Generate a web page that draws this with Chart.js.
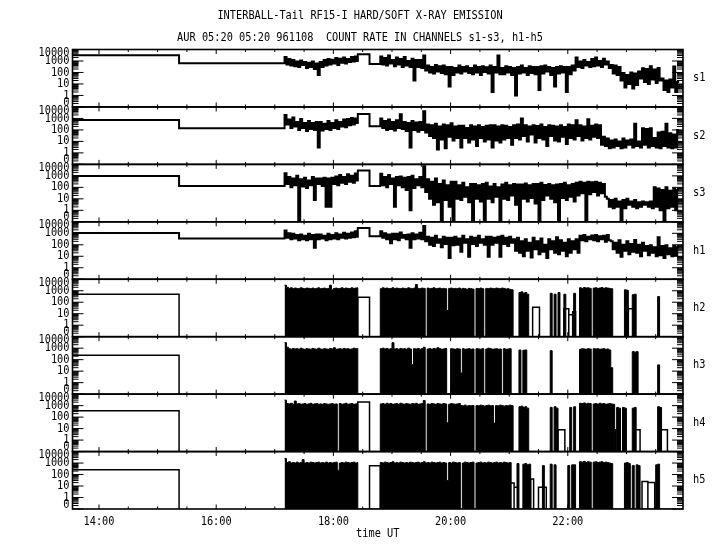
<!DOCTYPE html>
<html><head><meta charset="utf-8">
<script src="https://cdn.jsdelivr.net/npm/chart.js@4.4.1/dist/chart.umd.min.js"></script>
<style>html,body{margin:0;padding:0;background:#fff;}canvas{display:block;}</style>
</head><body>
<canvas id="c" width="720" height="550"></canvas>
<script>
// ---------- texts / ticks ----------
const titleLines = ['INTERBALL-Tail RF15-I HARD/SOFT X-RAY EMISSION',
                    'AUR 05:20 05:20 961108  COUNT RATE IN CHANNELS s1-s3, h1-h5'];
const channels = ['s1','s2','s3','h1','h2','h3','h4','h5'];
const yTickVals = [0.1, 1, 10, 100, 1000, 10000];
const yTickLabels = ['0', '1', '10', '100', '1000', '10000'];
const xTickHours = [14, 16, 18, 20, 22];
const xTickLabels = ['14:00', '16:00', '18:00', '20:00', '22:00'];
const xAxisTitle = 'time UT';
const xMin = 13.548, xMax = 23.966;

// ---------- times of regime changes ----------
const tStep = '15:22', tBurstA = '17:10', tGap1 = '18:25', tGap2 = '18:37', tBurstB = '18:48';
const stepMin = 2; // sampling of the A/B arrays (minutes)

// ---------- soft channels + h1 (line panels) ----------
const s1Pre = [3100, 630], s1Gap = [3800, 550];
const s2Pre = [740, 140],  s2Gap = [2450, 210];
const s3Pre = [950, 130],  s3Gap = [3000, 130];
const h1Pre = [1070, 360], h1Gap = [2900, 550];

const s1A = [2200,500,1500,400,1200,350,900,300,1100,450, 800,250,700,300,900,200,600,60,800,300,
  1200,400,1500,500,1300,600,1800,450,1600,700, 2000,600,1500,800,2200,900,2500,1000];
const s1B = [2500,500,1800,400,3000,600,1200,350,2000,500, 1500,300,2200,400,1000,300,1600,20,1200,300,
  1200,250,3000,150,400,100,300,80,450,120, 350,90,400,70,300,6,300,60,250,100,
  400,80,300,120,350,90,250,70,400,100, 300,60,350,110,280,80,400,2,300,100,
  3000,70,250,70,350,100,300,60,250,1, 300,80,400,100,250,60,350,90,300,70,
  300,3,350,80,400,120,300,60,250,6, 300,80,350,100,300,2,300,70,400,150,
  2000,300,900,250,1200,400,800,300,1500,350, 2000,400,1000,300,1600,500,900,250,450,80,
  400,60,300,20,90,5,60,10,100,4, 80,8,120,30,230,15,200,10,350,25,
  180,12,250,20,30,3,20,2,25,5, 330,2,15];

const s2A = [2000,300,800,150,1200,200,500,100,900,150, 400,80,600,120,400,100,500,3,500,90,
  350,120,600,100,400,150,700,120,500,200, 800,170,900,250,1100,300,1000,400];
const s2B = [1000,150,600,100,800,120,500,90,700,150, 2300,120,500,80,400,3,600,100,450,70,
  500,100,4200,60,300,30,250,20,350,2, 200,15,300,2.5,250,25,380,12,200,20,
  230,3,230,20,150,8,260,15,200,4, 250,20,180,10,230,15,250,3,250,12,
  200,8,260,15,230,20,180,5,250,20, 300,15,1000,30,250,10,200,40,260,8,
  220,20,300,15,180,4,250,30,230,12, 200,10,260,25,180,6,300,20,250,15,
  700,30,260,12,200,20,850,15,230,25, 300,20,250,5,25,4,18,2.5,12,3,
  15,4,10,2.5,18,3,12,5,15,3, 350,4,10,3,140,5,120,3,140,4,
  20,3,60,2.5,70,4,350,3,50,2.5, 40,3,100];

const s3A = [1650,200,800,100,600,150,1000,0,500,120, 700,90,400,150,800,8,600,200,600,130,
  700,2,600,2,700,200,900,150,1200,250, 800,200,1400,300,1000,250,1600,400];
const s3B = [1500,150,800,100,1200,200,600,2,800,150, 900,100,700,60,800,1,1000,90,500,150,
  800,100,7000,40,500,10,300,3,600,5, 200,0,400,8,150,2,300,0,300,10,
  150,8,250,15,100,5,200,0,200,10, 150,6,200,0,250,10,120,5,200,15,
  100,0,180,10,250,8,150,20,200,3, 180,0,180,10,220,6,150,12,200,4,
  200,0,250,8,160,20,200,10,150,5, 180,0,200,12,250,8,150,15,200,6,
  250,20,300,30,250,0,300,25,280,40, 300,20,250,30,200,15,10,2,8,1.5,
  10,2,6,0,8,1.5,10,3,6,2, 8,1.5,5,2,6,3,5,2,6,1.5,
  100,2,80,1,60,0,100,1.5,50,2, 80,1,60];

const h1A = [1750,400,1000,300,900,350,700,250,800,300, 600,250,900,300,700,55,800,300,800,350,
  600,250,900,300,700,350,1000,300,800,400, 1100,350,900,400,1200,450,1500,500];
const h1B = [1500,400,1000,300,800,135,900,300,900,250, 1200,400,700,300,800,55,1000,300,800,350,
  1100,300,4300,200,500,100,400,80,600,150, 300,60,500,120,400,7,400,90,500,100,
  350,25,600,150,300,9,500,120,400,80, 600,150,300,100,500,9,500,100,400,150,
  500,9,600,120,400,80,500,150,300,30, 400,20,200,10,300,30,150,8,400,40,
  200,15,350,25,100,7,300,40,200,20, 450,15,250,30,150,10,300,20,200,40,
  300,20,600,250,700,200,500,300,650,250, 700,200,550,300,600,180,700,250,200,40,
  150,20,250,9,100,30,200,15,120,25, 260,20,100,10,150,30,80,12,90,20,
  60,10,450,12,80,7,90,15,50,10, 80,12,60];

// ---------- hard channels h2-h5 (filled burst panels) ----------
const h2Pre = 500, h3Pre = 245, h4Pre = 350, h5Pre = 260;
const h2Boxes = [['18:25','18:37',270],['21:24','21:31',37],['21:56','22:01',27],['22:01','22:05',8],['22:05','22:08',15],['23:02','23:07',27]];
const h3Boxes = [];
const h4Boxes = [['18:25','18:37',2100],['21:50','21:57',8],['22:47','22:49',8],['23:09','23:14',8],['23:33','23:42',8]];
const h5Boxes = [['18:37','18:48',590],['21:01','21:05',18],['21:05','21:09',8],['21:22','21:25',40],['21:30','21:38',8],['23:16','23:22',25],['23:22','23:29',20]];

const h2A = [3000,2000,1600,1800,1500,1700,1600,1500,1800,1600, 1500,1700,1600,1500,1700,1500,1600,1800,1500,1600,
  1700,1500,1600,3000,1200,1600,1700,1500,1600,1800, 1500,1700,1600,1500,1800,1600,1700,1800];
const h2B = [1500,1800,1600,1700,1500,1600,1800,1500,1700,1600, 1500,1700,1600,1500,1800,1600,1500,1700,3500,1600,
  1500,1700,1600,0,1700,1500,1600,1800,1500,1600, 1700,1500,1600,1500,19,1600,1700,1500,1600,1500,
  1700,1400,1600,1500,1300,1600,1500,1400,0,1600, 1500,1700,1500,0,1600,1500,1700,1600,1500,1700,
  1600,1500,1700,1600,1400,1500,1300,1200,0,0, 0,700,800,600,700,500,0,0,0,0,
  0,0,0,0,0,0,0,600,0,500, 0,700,0,0,500,0,0,0,0,600,
  0,0,1800,1600,1900,1700,1800,1600,0,1700, 1800,1600,1700,1900,1600,1800,1700,1600,1500,0,
  0,0,0,0,0,1200,1100,0,0,450, 500,0,0,0,0,0,0,0,0,0,
  0,0,310,0,0,0,0,0,0,0, 0,0,0];

const h3A = [3000,1200,900,800,950,850,900,800,1000,850, 800,900,850,800,950,850,800,1000,850,800,
  900,850,800,950,850,1100,800,850,900,800, 950,850,900,800,850,1000,900,950];
const h3B = [900,1000,850,950,800,900,3000,850,900,800, 950,850,900,800,1000,850,36,900,850,950,
  800,900,1200,0,850,900,800,950,850,1100, 900,800,850,950,0,0,900,850,800,900,
  850,7,900,800,850,900,800,850,0,900, 850,800,900,0,850,1000,900,800,850,900,
  800,850,0,900,800,850,900,0,0,0, 0,700,0,650,700,0,0,0,0,0,
  0,0,0,0,0,0,0,600,0,0, 0,0,0,0,0,0,0,0,0,0,
  0,0,800,900,850,800,900,850,0,900, 850,900,800,850,900,800,850,700,20,0,
  0,0,0,0,0,0,0,0,0,500, 450,500,0,0,0,0,0,0,0,0,
  0,0,35,0,0,0,0,0,0,0, 0,0,0];

const h4A = [3000,1500,1400,1600,1300,2500,1400,1500,1300,1400, 1500,1300,1400,1600,1300,1400,1500,1300,1400,1300,
  1500,1400,1300,1400,1500,1300,1400,0,1500,1300, 1400,1600,1300,1400,1500,1300,1400,1500];
const h4B = [1400,1500,1300,1600,1400,1500,1300,1400,1500,1300, 1600,1400,1300,1500,1400,1300,1500,1400,1600,1300,
  1400,1500,2800,0,1400,1300,1500,1400,1300,1500, 1400,1300,1500,1400,32,1300,1500,1400,1300,1400,
  1500,1000,950,1100,900,1000,950,1000,0,1000, 950,1100,1000,900,1000,1100,950,1000,30,1000,
  950,1100,1000,900,1000,950,1100,1000,0,0, 0,800,900,700,800,600,0,0,0,0,
  0,0,0,0,0,0,0,700,0,800, 600,0,0,0,0,0,0,700,0,800,
  0,0,1600,1500,1700,1400,1600,1500,0,1400, 1500,1300,1600,1400,1500,1300,1400,1500,1400,1300,
  0,700,600,0,700,600,0,0,0,600, 700,0,0,0,0,0,0,0,0,0,
  0,0,800,700,0,0,0,0,0,0, 0,0,0];

const h5A = [2500,1100,1300,1000,1100,1000,1200,1000,1100,2000, 1000,1100,1000,1200,1100,1000,1100,1200,1000,1100,
  1000,1200,1000,1100,1000,1100,1200,230,1000,1100, 1000,1200,1100,1000,1100,1200,1000,1100];
const h5B = [1100,1000,1200,1100,1000,1100,1300,1000,1100,1000, 1200,1100,1000,1100,1000,1200,1100,1000,1100,1200,
  1000,1100,1300,1000,1100,1000,1200,1100,1000,1100, 1200,1000,1100,1000,30,1100,1000,1200,1100,1000,
  1100,0,1000,1200,1100,1000,1100,1200,0,1000, 1100,1200,1000,1100,1000,1200,1100,1000,1100,1200,
  1000,1100,1000,1200,1100,1000,1100,0,0,0, 900,0,0,800,900,700,800,0,0,0,
  0,0,0,600,0,0,0,800,0,700, 0,0,0,0,0,0,600,0,700,700,
  0,0,1300,1200,1400,1100,1300,1200,0,1200, 1300,1100,1200,1300,1100,1200,1100,1000,900,0,
  0,0,0,0,0,1000,1100,900,0,600, 0,700,600,0,0,0,0,0,0,0,
  0,700,800,0,0,0,0,0,0,0, 0,0,0];

// ---------- build datasets ----------
const FLOOR = 0.1; // "0" is drawn at the bottom of each log panel
const hm = s => { const [h, m] = s.split(':').map(Number); return h + m / 60; };
const val = v => (v > 0 ? v : FLOOR);
const gridPts = (arr, t0) => arr.map((v, i) => ({x: hm(t0) + i * stepMin / 60, y: val(v)}));

function lineSeries(pre, gap, A, B) {
  const p = [{x: xMin, y: pre[0]}, {x: hm(tStep), y: pre[1]}];
  p.push(...gridPts(A, tBurstA));
  p.push({x: hm(tGap1), y: gap[0]}, {x: hm(tGap2), y: gap[1]});
  const b = gridPts(B, tBurstB);
  p.push(...b, {x: b[b.length - 1].x + stepMin / 60, y: b[b.length - 1].y});
  return p;
}
function burstSeries(A, B) {
  const p = gridPts(A, tBurstA);
  p.push({x: hm(tGap1), y: FLOOR});
  const b = gridPts(B, tBurstB);
  p.push(...b, {x: b[b.length - 1].x + stepMin / 60, y: FLOOR});
  return p;
}
function boxSeries(pre, boxes) {
  const t = hm(tStep);
  const p = [{x: xMin, y: pre}, {x: t, y: pre}, {x: t, y: FLOOR}, {x: t, y: null}];
  boxes.forEach(([a, b, v]) => {
    p.push({x: hm(a), y: FLOOR}, {x: hm(a), y: v}, {x: hm(b), y: v}, {x: hm(b), y: FLOOR}, {x: hm(b), y: null});
  });
  return p;
}

const lineData = [lineSeries(s1Pre, s1Gap, s1A, s1B), lineSeries(s2Pre, s2Gap, s2A, s2B),
                  lineSeries(s3Pre, s3Gap, s3A, s3B), lineSeries(h1Pre, h1Gap, h1A, h1B)];
const burstData = [burstSeries(h2A, h2B), burstSeries(h3A, h3B), burstSeries(h4A, h4B), burstSeries(h5A, h5B)];
const boxData = [boxSeries(h2Pre, h2Boxes), boxSeries(h3Pre, h3Boxes), boxSeries(h4Pre, h4Boxes), boxSeries(h5Pre, h5Boxes)];

const datasets = [];
lineData.forEach((d, i) => datasets.push({data: d, yAxisID: 'y' + i, xAxisID: 'x', stepped: true,
  borderColor: '#000', borderWidth: 2, pointRadius: 0, fill: false}));
burstData.forEach((d, i) => datasets.push({data: d, yAxisID: 'y' + (i + 4), xAxisID: 'x', stepped: true,
  borderColor: '#000', backgroundColor: '#000', borderWidth: 1, pointRadius: 0, fill: 'start'}));
boxData.forEach((d, i) => datasets.push({data: d, yAxisID: 'y' + (i + 4), xAxisID: 'x', stepped: false,
  borderColor: '#000', borderWidth: 1.5, pointRadius: 0, fill: false, spanGaps: false}));

const scales = {
  x: {type: 'linear', position: 'bottom', min: xMin, max: xMax,
      ticks: {display: false}, grid: {display: false}, border: {display: false},
      afterFit(s) { s.height = 41; }}
};
channels.forEach((c, i) => {
  scales['y' + i] = {type: 'logarithmic', position: 'left', stack: 'panels', stackWeight: 1, weight: 20 - i,
    min: FLOOR, max: 10000, ticks: {display: false}, grid: {display: false}, border: {display: false},
    afterFit(s) { s.width = 72.5; }};
});

// ---------- frame / ticks / labels ----------
const FONT = '10.3px "DejaVu Sans Mono", "Liberation Mono", monospace';
function txt(ctx, s, x, y, align) {
  ctx.save(); ctx.translate(x, y); ctx.scale(1, 1.15);
  ctx.textAlign = align; ctx.textBaseline = 'middle'; ctx.fillText(s, 0, 0); ctx.restore();
}
const framePlugin = {
  id: 'frame',
  afterDraw(chart) {
    const ctx = chart.ctx, xs = chart.scales.x, a = chart.chartArea;
    ctx.save();
    ctx.strokeStyle = '#000'; ctx.fillStyle = '#000'; ctx.font = FONT;
    channels.forEach((c, i) => {
      const s = chart.scales['y' + i];
      ctx.lineWidth = 1;
      ctx.beginPath();
      // y ticks (inward, both sides)
      for (let k = 0; k < yTickVals.length; k++) {
        const d = yTickVals[k];
        const y = s.getPixelForValue(d);
        ctx.moveTo(a.left, y); ctx.lineTo(a.left + 11, y);
        ctx.moveTo(a.right, y); ctx.lineTo(a.right - 11, y);
        if (k < yTickVals.length - 1) {
          for (let m = 2; m <= 9; m++) {
            const ym = s.getPixelForValue(m * d);
            ctx.moveTo(a.left, ym); ctx.lineTo(a.left + 6, ym);
            ctx.moveTo(a.right, ym); ctx.lineTo(a.right - 6, ym);
          }
        }
      }
      // x ticks every 30 min on top and bottom of each panel
      for (let h = 14; h <= 23.5; h += 0.5) {
        const x = xs.getPixelForValue(h);
        const L = (h % 2 === 0) ? 4.5 : 2.5;
        ctx.moveTo(x, s.top); ctx.lineTo(x, s.top + L);
        ctx.moveTo(x, s.bottom); ctx.lineTo(x, s.bottom - L);
      }
      ctx.stroke();
      ctx.lineWidth = 1.6;
      ctx.strokeRect(a.left, s.top, a.right - a.left, s.bottom - s.top);
      // y labels
      yTickVals.forEach((v, k) => {
        let y = s.getPixelForValue(v);
        if (k === 0) y -= 4.5;
        if (k === yTickVals.length - 1) y += 3.5;
        txt(ctx, yTickLabels[k], 69.5, y, 'right');
      });
      // channel name
      txt(ctx, c, a.right + 10, (s.top + s.bottom) / 2, 'left');
    });
    xTickHours.forEach((h, k) => txt(ctx, xTickLabels[k], xs.getPixelForValue(h), a.bottom + 13, 'center'));
    txt(ctx, xAxisTitle, (a.left + a.right) / 2, a.bottom + 25, 'center');
    txt(ctx, titleLines[0], 360, 16, 'center');
    txt(ctx, titleLines[1], 360, 38, 'center');
    ctx.restore();
  }
};

new Chart(document.getElementById('c'), {
  type: 'line',
  data: {datasets},
  options: {
    responsive: false, animation: false, devicePixelRatio: 1, events: [],
    layout: {padding: {top: 49.5, right: 37, left: 0, bottom: 0}},
    elements: {point: {radius: 0}, line: {tension: 0}},
    plugins: {legend: {display: false}, tooltip: {enabled: false}, title: {display: false}},
    scales
  },
  plugins: [framePlugin]
});
</script>
</body></html>
